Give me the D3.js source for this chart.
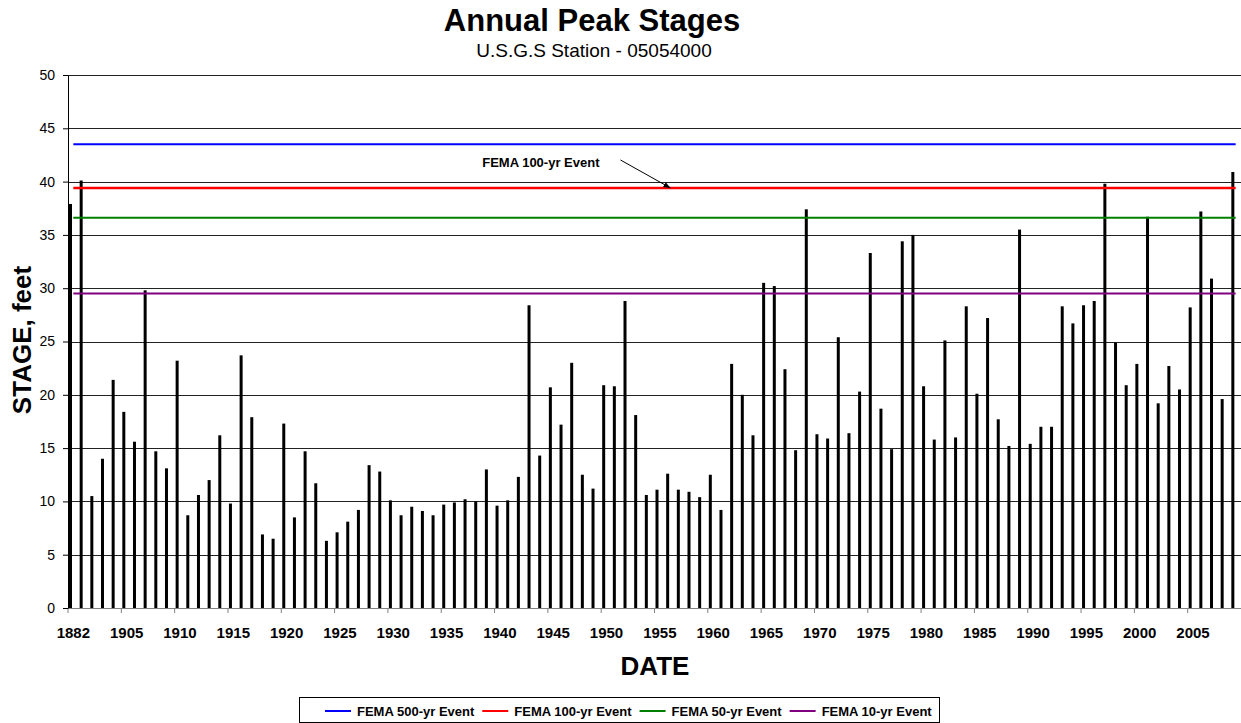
<!DOCTYPE html>
<html>
<head>
<meta charset="utf-8">
<script src="https://cdn.jsdelivr.net/npm/d3@7"></script>
<style>
body { margin: 0; background: #fff; }
svg { font-family: "Liberation Sans", Arial, sans-serif; }
</style>
</head>
<body>
<div id="chart-area"></div>
<script>
// annual peak stage, one bar per year (1882 and 1897 are historic peaks)
var years = [
	1882, 1897, 1902, 1903, 1904, 1905, 1906, 1907, 1908, 1909,
	1910, 1911, 1912, 1913, 1914, 1915, 1916, 1917, 1918, 1919,
	1920, 1921, 1922, 1923, 1924, 1925, 1926, 1927, 1928, 1929,
	1930, 1931, 1932, 1933, 1934, 1935, 1936, 1937, 1938, 1939,
	1940, 1941, 1942, 1943, 1944, 1945, 1946, 1947, 1948, 1949,
	1950, 1951, 1952, 1953, 1954, 1955, 1956, 1957, 1958, 1959,
	1960, 1961, 1962, 1963, 1964, 1965, 1966, 1967, 1968, 1969,
	1970, 1971, 1972, 1973, 1974, 1975, 1976, 1977, 1978, 1979,
	1980, 1981, 1982, 1983, 1984, 1985, 1986, 1987, 1988, 1989,
	1990, 1991, 1992, 1993, 1994, 1995, 1996, 1997, 1998, 1999,
	2000, 2001, 2002, 2003, 2004, 2005, 2006, 2007, 2008, 2009
];
var stages = [
	37.9, 40.1, 10.5, 14.0, 21.4, 18.4, 15.6, 29.8, 14.7, 13.1,
	23.2, 8.7, 10.6, 12.0, 16.2, 9.8, 23.7, 17.9, 6.9, 6.5,
	17.3, 8.5, 14.7, 11.7, 6.3, 7.1, 8.1, 9.2, 13.4, 12.8,
	10.1, 8.7, 9.5, 9.1, 8.7, 9.7, 9.9, 10.2, 10.0, 13.0,
	9.6, 10.1, 12.3, 28.4, 14.3, 20.7, 17.2, 23.0, 12.5, 11.2,
	20.9, 20.8, 28.8, 18.1, 10.6, 11.1, 12.6, 11.1, 10.9, 10.4,
	12.5, 9.2, 22.9, 20.0, 16.2, 30.5, 30.2, 22.4, 14.8, 37.4,
	16.3, 15.9, 25.4, 16.4, 20.3, 33.3, 18.7, 14.9, 34.4, 35.0,
	20.8, 15.8, 25.1, 16.0, 28.3, 20.1, 27.2, 17.7, 15.2, 35.5,
	15.4, 17.0, 17.0, 28.3, 26.7, 28.4, 28.8, 39.8, 24.9, 20.9,
	22.9, 36.7, 19.2, 22.7, 20.5, 28.2, 37.2, 30.9, 19.6, 40.9
];
var femaNames = ["FEMA 500-yr Event", "FEMA 100-yr Event", "FEMA 50-yr Event", "FEMA 10-yr Event"];
var femaStages = [43.5, 39.4, 36.6, 29.5];
var femaColors = ["#0000ff", "#ff0000", "#008000", "#800080"];
var yTicks = [0, 5, 10, 15, 20, 25, 30, 35, 40, 45, 50];

var margin = {top: 75, right: 0, bottom: 115, left: 68};
var width = 1173;
var height = 533;

var svg = d3.select("#chart-area").append("svg")
	.attr("width", 1241)
	.attr("height", 723);

var g = svg.append("g")
	.attr("transform", "translate(" + margin.left + ", " + margin.top + ")");

var x = d3.scaleBand()
	.domain(years)
	.range([0, width]);

var y = d3.scaleLinear()
	.domain([0, 50])
	.range([height, 0]);

// gridlines
g.append("g")
	.attr("class", "grid")
	.selectAll("line")
	.data(yTicks.filter((d) => d > 0))
	.enter().append("line")
		.attr("x1", 0)
		.attr("x2", width)
		.attr("y1", (d) => Math.round(y(d)) + 0.5)
		.attr("y2", (d) => Math.round(y(d)) + 0.5)
		.attr("stroke", "#222")
		.attr("stroke-width", 1);

// bars
g.selectAll("rect.bar")
	.data(years)
	.enter().append("rect")
		.attr("class", "bar")
		.attr("x", (d) => x(d) + 1)
		.attr("y", (d, i) => y(stages[i]))
		.attr("width", 3)
		.attr("height", (d, i) => height - y(stages[i]))
		.attr("fill", "#000");

// FEMA levels
var first = x(years[0]) + x.bandwidth() / 2;
var last = x(years[years.length - 1]) + x.bandwidth() / 2;
g.selectAll("line.fema")
	.data(femaStages)
	.enter().append("line")
		.attr("class", "fema")
		.attr("x1", first)
		.attr("x2", last)
		.attr("y1", (d) => y(d))
		.attr("y2", (d) => y(d))
		.attr("stroke", (d, i) => femaColors[i])
		.attr("stroke-width", (d, i) => i == 1 ? 2.5 : 2);

// bottom axis, ticks between categories, every 5th label
var bottomAxis = d3.axisBottom(x)
	.tickValues(years.filter((d, i) => i % 5 == 0))
	.tickSize(5)
	.tickSizeOuter(0);

var xAxisG = g.append("g")
	.attr("class", "x axis")
	.attr("transform", "translate(0, " + height + ")")
	.call(bottomAxis);
xAxisG.select(".domain").attr("stroke", "#808080");
xAxisG.selectAll(".tick line")
	.attr("x1", -x.step() / 2)
	.attr("x2", -x.step() / 2)
	.attr("stroke", "#808080");
xAxisG.selectAll("text")
	.attr("y", 19)
	.style("font-size", "15px")
	.style("font-weight", "bold")
	.style("fill", "#000");

// left axis
var leftAxis = d3.axisLeft(y)
	.tickValues(yTicks)
	.tickSize(5)
	.tickPadding(8)
	.tickSizeOuter(0);
var yAxisG = g.append("g")
	.attr("class", "y axis")
	.call(leftAxis);
yAxisG.select(".domain").attr("stroke", "#000");
yAxisG.selectAll(".tick line").attr("stroke", "#000");
yAxisG.selectAll("text")
	.style("font-size", "14px")
	.style("fill", "#000");

// annotation for the 100-yr line
var ax = x(1956) + x.bandwidth() / 2;
var ay = y(femaStages[1]);
svg.append("defs").append("marker")
	.attr("id", "arrow")
	.attr("viewBox", "0 0 10 10")
	.attr("refX", 10)
	.attr("refY", 5)
	.attr("markerWidth", 7)
	.attr("markerHeight", 7)
	.attr("orient", "auto")
	.append("path")
		.attr("d", "M0,1L10,5L0,9z")
		.attr("fill", "#000");
g.append("line")
	.attr("x1", ax - 50)
	.attr("y1", ay - 28)
	.attr("x2", ax)
	.attr("y2", ay)
	.attr("stroke", "#000")
	.attr("stroke-width", 1)
	.attr("marker-end", "url(#arrow)");
g.append("text")
	.attr("x", ax - 71)
	.attr("y", ay - 21)
	.attr("text-anchor", "end")
	.style("font-size", "13px")
	.style("font-weight", "bold")
	.text("FEMA 100-yr Event");

// titles
svg.append("text")
	.attr("x", 592)
	.attr("y", 31)
	.attr("text-anchor", "middle")
	.style("font-size", "31px")
	.style("font-weight", "bold")
	.text("Annual Peak Stages");

svg.append("text")
	.attr("x", 594)
	.attr("y", 57)
	.attr("text-anchor", "middle")
	.style("font-size", "19px")
	.text("U.S.G.S Station - 05054000");

svg.append("text")
	.attr("class", "x axis-label")
	.attr("x", 655)
	.attr("y", 675)
	.attr("text-anchor", "middle")
	.style("font-size", "26px")
	.style("font-weight", "bold")
	.text("DATE");

svg.append("text")
	.attr("class", "y axis-label")
	.attr("transform", "translate(31, 340) rotate(-90)")
	.attr("text-anchor", "middle")
	.style("font-size", "26px")
	.style("font-weight", "bold")
	.text("STAGE, feet");

// legend
var legend = svg.append("g").attr("class", "legend");
legend.append("rect")
	.attr("x", 299.5)
	.attr("y", 697.5)
	.attr("width", 640)
	.attr("height", 25)
	.attr("fill", "none")
	.attr("stroke", "#000");

var lx = 325;
femaNames.forEach((name, i) => {
	var item = legend.append("g").attr("transform", "translate(" + lx + ", 0)");
	item.append("line")
		.attr("x1", 0)
		.attr("x2", 26)
		.attr("y1", 711)
		.attr("y2", 711)
		.attr("stroke", femaColors[i])
		.attr("stroke-width", 2);
	var t = item.append("text")
		.attr("x", 32)
		.attr("y", 715.5)
		.style("font-size", "13px")
		.style("font-weight", "bold")
		.text(name);
	lx += 32 + t.node().getComputedTextLength() + 8;
});
</script>
</body>
</html>
